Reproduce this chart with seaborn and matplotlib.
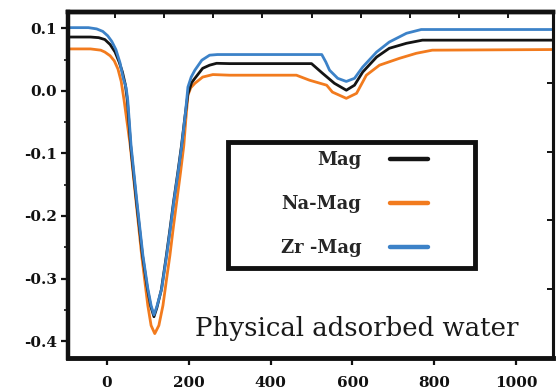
import matplotlib
matplotlib.use("Agg")
import matplotlib.pyplot as plt
import seaborn as sns
import pandas as pd
from matplotlib.patches import Rectangle
from matplotlib.lines import Line2D

# ---- data ----
mag_x = [-95, -40, -20, -5, 8, 20, 30, 38, 45, 50, 58, 72, 87, 99, 107, 115, 122, 133, 145, 154,
         163, 173, 182, 191, 198, 207, 215, 234, 251, 268, 300, 500, 527, 556, 585, 605, 625, 659,
         690, 732, 771, 1090]
mag_y = [0.086, 0.086, 0.085, 0.082, 0.074, 0.062, 0.046, 0.03, 0.01, -0.015, -0.087, -0.175,
         -0.263, -0.316, -0.344, -0.361, -0.347, -0.318, -0.265, -0.222, -0.177, -0.132, -0.089,
         -0.04, -0.005, 0.013, 0.02, 0.036, 0.041, 0.044, 0.0435, 0.0435, 0.028, 0.012, 0.001,
         0.009, 0.03, 0.054, 0.068, 0.076, 0.081, 0.081]

na_x = [-95, -40, -15, -5, 8, 18, 27, 35, 42, 57, 71, 85, 100, 108, 117, 127, 137, 146, 154, 162,
        171, 180, 188, 193, 198, 205, 215, 234, 259, 300, 463, 495, 537, 551, 585, 610, 634, 666,
        715, 756, 795, 1090]
na_y = [0.067, 0.067, 0.065, 0.062, 0.056, 0.048, 0.035, 0.015, -0.015, -0.087, -0.175, -0.263,
        -0.343, -0.375, -0.388, -0.375, -0.343, -0.3, -0.263, -0.22, -0.175, -0.13, -0.087,
        -0.045, -0.007, 0.005, 0.012, 0.022, 0.026, 0.025, 0.025, 0.017, 0.009, -0.002, -0.012,
        -0.004, 0.025, 0.041, 0.052, 0.06, 0.065, 0.066]

zr_x = [-95, -45, -25, -10, 2, 12, 22, 32, 40, 47, 51, 59, 73, 88, 100, 108, 115, 122, 134, 146,
        155, 164, 174, 183, 192, 198, 206, 215, 232, 251, 270, 525, 535, 544, 564, 585, 605, 625,
        659, 690, 732, 768, 1090]
zr_y = [0.101, 0.101, 0.099, 0.095, 0.088, 0.079, 0.066, 0.045, 0.02, 0.005, -0.015, -0.087,
        -0.175, -0.263, -0.316, -0.343, -0.358, -0.345, -0.316, -0.263, -0.22, -0.175, -0.13,
        -0.087, -0.035, 0.006, 0.022, 0.033, 0.049, 0.057, 0.058, 0.058, 0.046, 0.033, 0.02, 0.015,
        0.02, 0.038, 0.062, 0.078, 0.092, 0.098, 0.098]

series_names = ["Mag", "Na-Mag", "Zr -Mag"]
series_colors = ["#141414", "#f27b1e", "#3c82c8"]

x_ticks = [0, 200, 400, 600, 800, 1000]
x_tick_labels = ["0", "200", "400", "600", "800", "1000"]
y_ticks = [0.1, 0.0, -0.1, -0.2, -0.3, -0.4]
y_tick_labels = ["0.1", "0.0", "-0.1", "-0.2", "-0.3", "-0.4"]
y_minor_ticks = [0.05, -0.05, -0.15, -0.25, -0.35]
top_ticks = [20, 140, 260, 380, 500, 620, 740, 860, 980]
right_ticks = [0.013, -0.097, -0.207, -0.317]

annotation = "Physical adsorbed water"

# ---- build the figure ----
sns.set_style("ticks")
plt.rcParams["font.family"] = ["DejaVu Serif"]

frames = []
for name, xs, ys in zip(series_names, [mag_x, na_x, zr_x], [mag_y, na_y, zr_y]):
    frames.append(pd.DataFrame({"T": xs, "v": ys, "s": name}))
df = pd.concat(frames, ignore_index=True)

fig = plt.figure(figsize=(5.56, 3.91), dpi=100)
ax = fig.add_axes([68 / 556, 1 - 358 / 391, (553 - 68) / 556, (358 - 12) / 391])

draw_order = ["Na-Mag", "Mag", "Zr -Mag"]
pal = dict(zip(series_names, series_colors))
for name in draw_order:
    sub = df[df["s"] == name]
    sns.lineplot(data=sub, x="T", y="v", color=pal[name], linewidth=2.0, ax=ax,
                 estimator=None, sort=False, legend=False)
for ln in ax.get_lines():
    ln.set_solid_joinstyle("round")

ax.set_xlim(-95, 1090)
ax.set_ylim(-0.427, 0.126)
ax.set_xlabel("")
ax.set_ylabel("")

ax.set_xticks(x_ticks)
ax.set_xticklabels(x_tick_labels)
ax.set_yticks(y_ticks)
ax.set_yticklabels(y_tick_labels)
ax.set_yticks(y_minor_ticks, minor=True)

for lab in ax.get_xticklabels() + ax.get_yticklabels():
    lab.set_fontweight("bold")
    lab.set_fontsize(11)
    lab.set_color("#111111")

ax.tick_params(axis="both", which="major", direction="out", length=5, width=1.6, color="#111111")
ax.tick_params(axis="x", pad=8)
ax.tick_params(axis="y", pad=3)
ax.tick_params(axis="y", which="minor", direction="out", length=3, width=1.2, color="#111111")

for side in ["left", "bottom", "top", "right"]:
    ax.spines[side].set_visible(True)
    ax.spines[side].set_color("#111111")
ax.spines["left"].set_linewidth(3.2)
ax.spines["bottom"].set_linewidth(3.5)
ax.spines["top"].set_linewidth(3.2)
ax.spines["right"].set_linewidth(2.2)

sec_top = ax.secondary_xaxis("top")
sec_top.set_xticks(top_ticks)
sec_top.set_xticklabels([])
sec_top.tick_params(direction="in", length=4, width=1.4, color="#111111")
sec_top.spines["top"].set_linewidth(3.2)

sec_right = ax.secondary_yaxis("right")
sec_right.set_yticks(right_ticks)
sec_right.set_yticklabels([])
sec_right.tick_params(direction="in", length=4, width=1.4, color="#111111")
sec_right.spines["right"].set_linewidth(2.2)

# legend box (drawn frame) and entries
box = Rectangle(((228 - 68) / 485, 1 - (268 - 12) / 346), (475 - 228) / 485, (268 - 142) / 346,
                transform=ax.transAxes, fill=True, facecolor="white", edgecolor="#111111",
                linewidth=3.5, zorder=5)
ax.add_patch(box)
handles = [Line2D([], [], color=c, linewidth=3.2) for c in series_colors]
leg = ax.legend(handles, series_names, loc="upper right",
                bbox_to_anchor=((428 - 68) / 485, 1 - (151 - 12) / 346),
                frameon=False, markerfirst=False, borderpad=0, borderaxespad=0,
                handlelength=2.1, handletextpad=1.6, labelspacing=1.45,
                prop={"family": "DejaVu Serif", "weight": "bold", "size": 13})
leg.set_zorder(6)

ax.text((357 - 68) / 485, 1 - (336 - 12) / 346, annotation, transform=ax.transAxes,
        ha="center", va="baseline", fontsize=18.7, color="#1a1a1a", zorder=6)

fig.savefig("out.png", dpi=100)
